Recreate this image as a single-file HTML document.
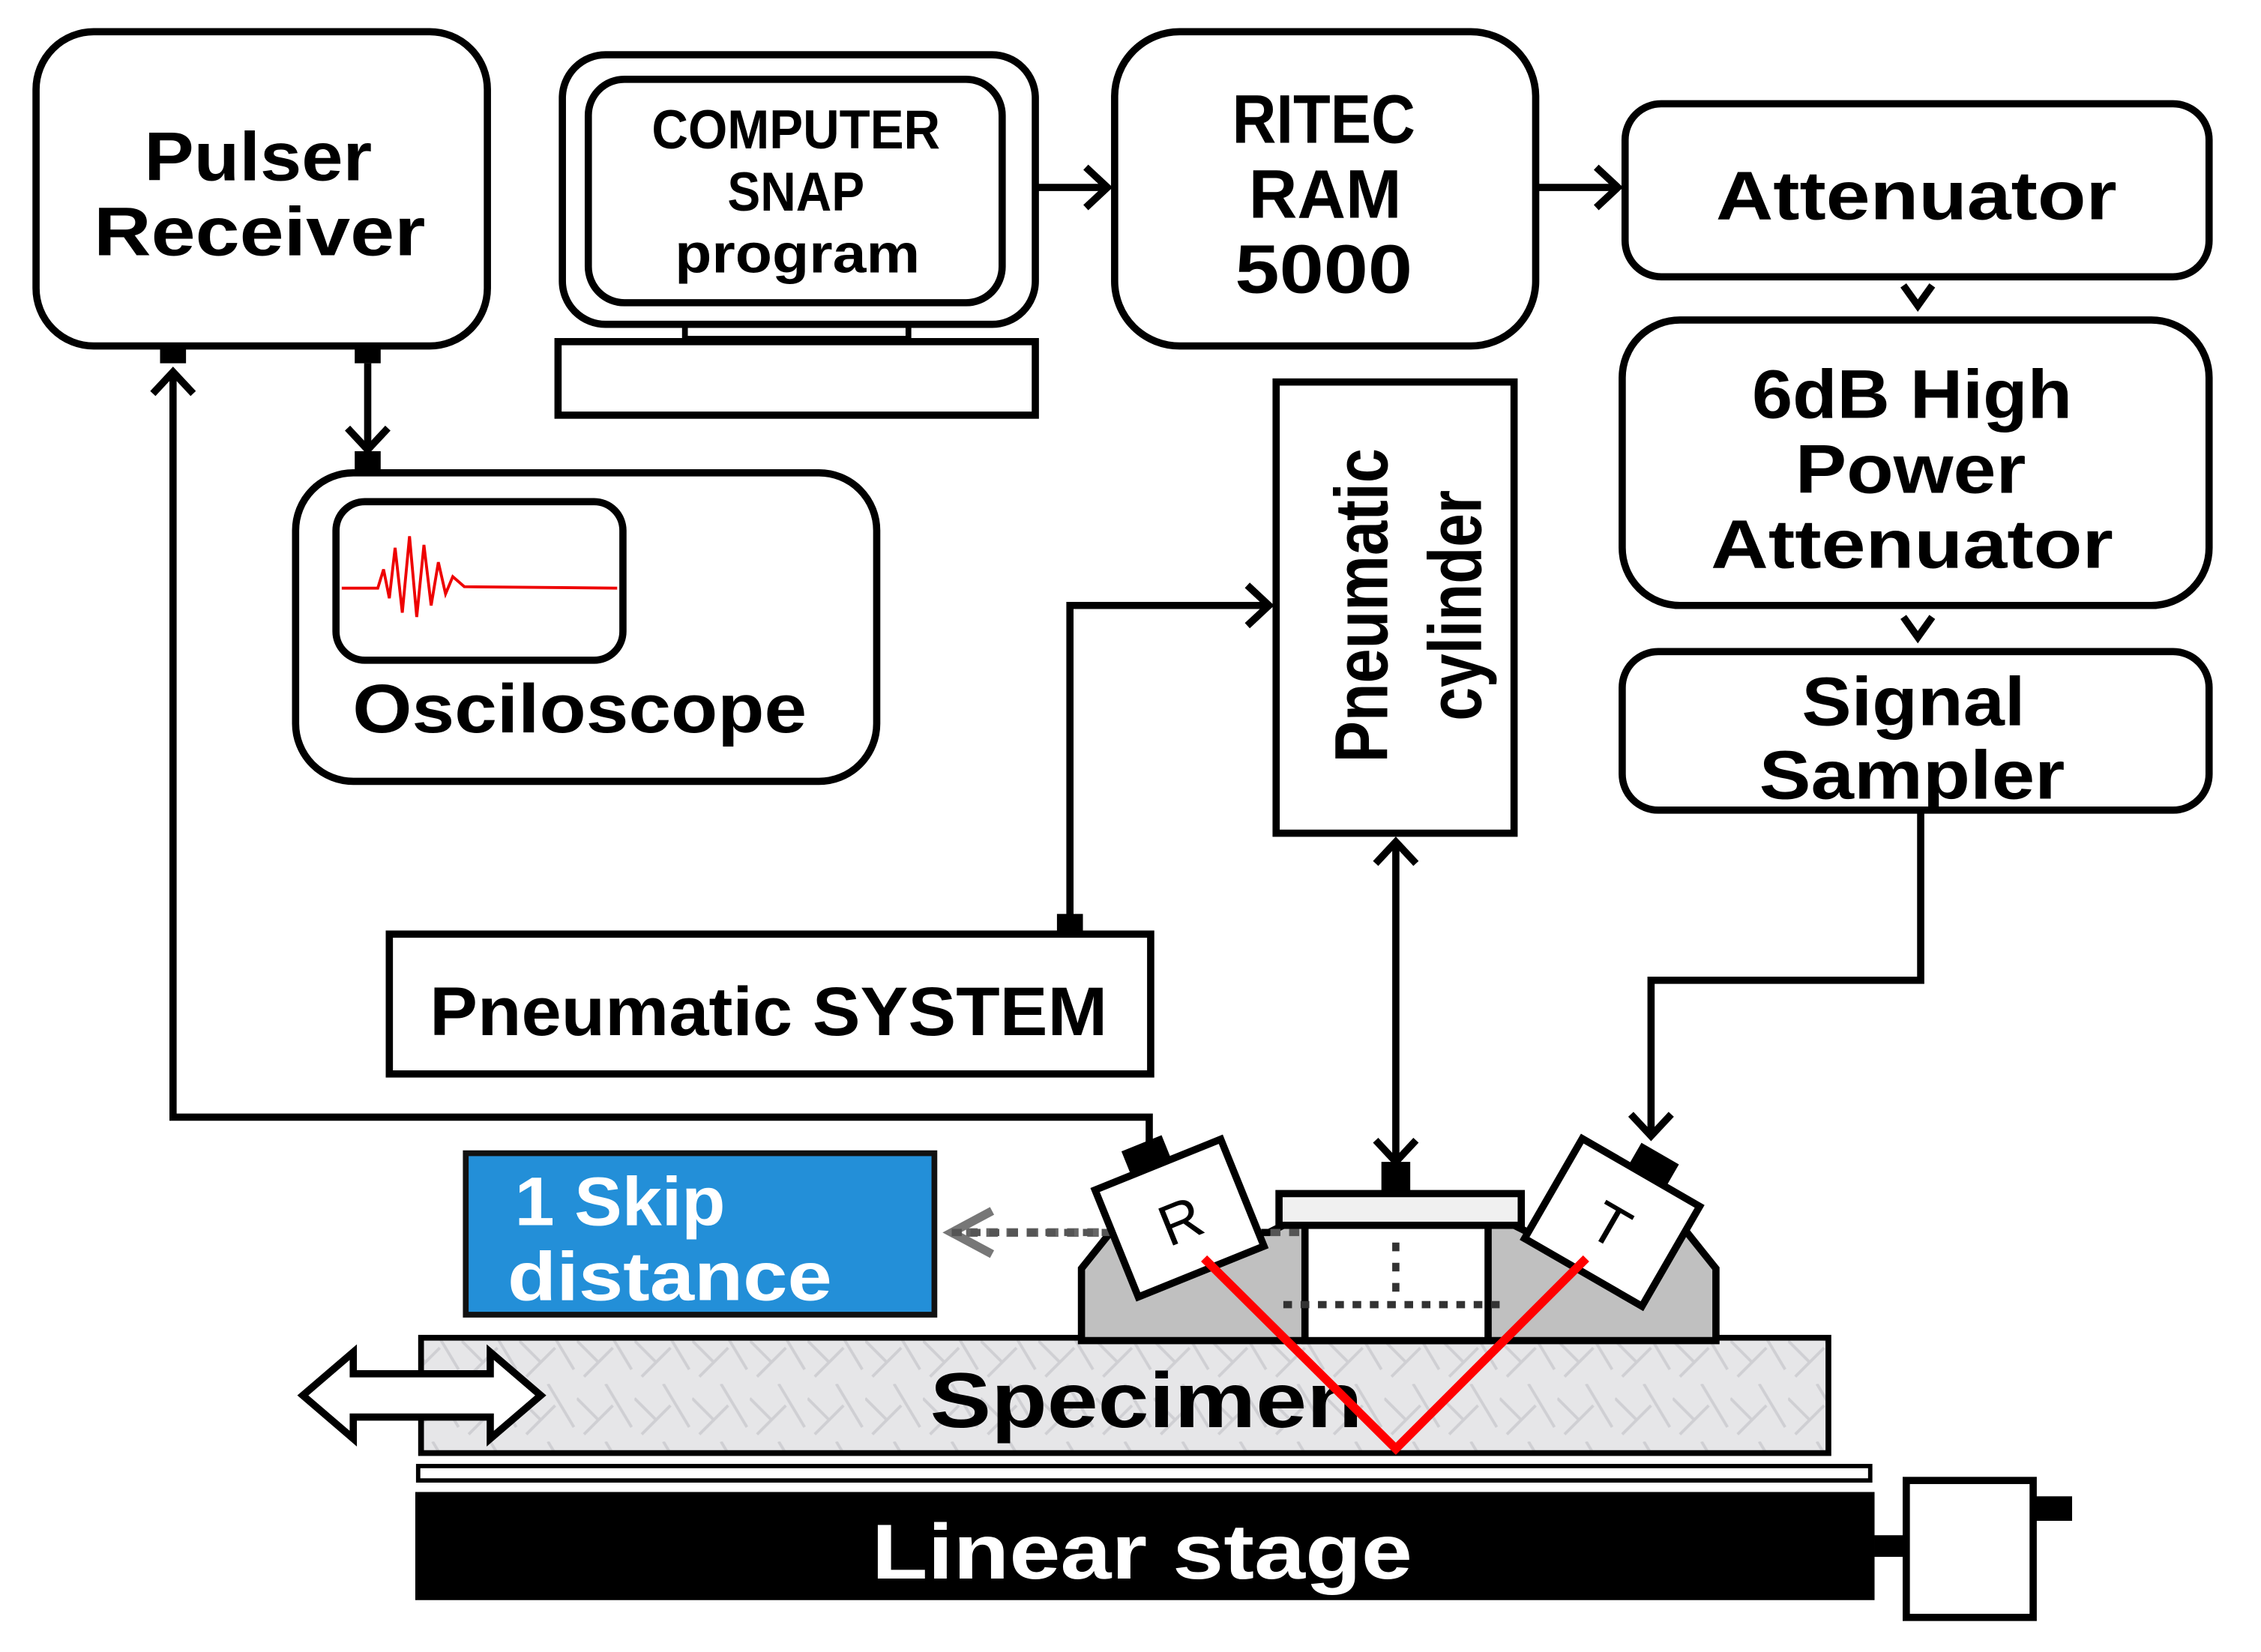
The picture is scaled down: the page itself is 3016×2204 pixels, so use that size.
<!DOCTYPE html>
<html><head><meta charset="utf-8"><style>
html,body{margin:0;padding:0;background:#fff;}
svg{display:block;}
text{font-family:"Liberation Sans",sans-serif;font-weight:bold;text-anchor:middle;}
</style></head><body>
<svg width="3016" height="2204" viewBox="0 0 1568 1146" preserveAspectRatio="none" xmlns="http://www.w3.org/2000/svg">
<defs>
<pattern id="marble" width="40" height="40" patternUnits="userSpaceOnUse">
<rect width="40" height="40" fill="#e6e6e8"/>
<path d="M0 10 L15 25 M20 0 L38 30 M5 35 L25 15" stroke="#cfcfd3" stroke-width="2"/>
</pattern>
</defs>
<g fill="none" stroke="#000" stroke-width="5">
<rect x="25" y="22" width="313" height="218" rx="40"/>
<rect x="205" y="328" width="403" height="214" rx="40"/>
<rect x="233" y="348" width="199" height="110" rx="20"/>
<rect x="390" y="38" width="328" height="187" rx="30"/>
<rect x="408" y="55" width="287" height="155" rx="25"/>
<rect x="475" y="225" width="155" height="10" stroke-width="4"/>
<rect x="387" y="237" width="331" height="51"/>
<rect x="773" y="22" width="292" height="218" rx="45"/>
<rect x="1127" y="72" width="405" height="120" rx="25"/>
<rect x="1125" y="222" width="407" height="198" rx="40"/>
<rect x="1125" y="452" width="407" height="110" rx="25"/>
<rect x="885" y="265" width="165" height="313"/>
<rect x="270" y="648" width="528" height="97"/>
<g stroke-width="5">
<polyline points="120,258 120,775 797,775 797,800"/>
<polyline points="106,273 120,258 134,273"/>
<line x1="255" y1="252" x2="255" y2="312"/>
<polyline points="241,297 255,312 269,297"/>
<line x1="718" y1="130" x2="768" y2="130"/>
<polyline points="753,116 768,130 753,144"/>
<line x1="1065" y1="130" x2="1122" y2="130"/>
<polyline points="1107,116 1122,130 1107,144"/>
<polyline points="1320,198 1330,212 1340,198"/>
<polyline points="1320,428 1330,442 1340,428"/>
<polyline points="1332,562 1332,680 1145,680 1145,788"/>
<polyline points="1131,773 1145,788 1159,773"/>
<polyline points="742,641 742,420 880,420"/>
<polyline points="865,406 880,420 865,434"/>
<line x1="968" y1="584" x2="968" y2="806"/>
<polyline points="954,599 968,584 982,599"/>
<polyline points="954,791 968,806 982,791"/>
</g>
</g>
<g fill="#000">
<rect x="111" y="238" width="18" height="14"/>
<rect x="246" y="238" width="18" height="14"/>
<rect x="246" y="313" width="18" height="14"/>
<rect x="733" y="634" width="18" height="14"/>
<rect x="958" y="806" width="20" height="22"/>
</g>
<path d="M237 408 L262 408 L266 395 L270 415 L274 380 L279 425 L284 372 L289 428 L294 378 L299 420 L304 390 L309 412 L314 400 L322 407 L428 408" fill="none" stroke="#e00" stroke-width="2"/>
<text x="179" y="125" font-size="48" textLength="158" lengthAdjust="spacingAndGlyphs">Pulser</text>
<text x="180" y="177" font-size="48" textLength="230" lengthAdjust="spacingAndGlyphs">Receiver</text>
<text x="552" y="103" font-size="38" textLength="200" lengthAdjust="spacingAndGlyphs">COMPUTER</text>
<text x="552" y="146" font-size="38" textLength="95" lengthAdjust="spacingAndGlyphs">SNAP</text>
<text x="553" y="189" font-size="38" textLength="170" lengthAdjust="spacingAndGlyphs">program</text>
<text x="918" y="99" font-size="48" textLength="127" lengthAdjust="spacingAndGlyphs">RITEC</text>
<text x="919" y="151" font-size="48" textLength="106" lengthAdjust="spacingAndGlyphs">RAM</text>
<text x="918" y="203" font-size="48" textLength="123" lengthAdjust="spacingAndGlyphs">5000</text>
<text x="1329" y="152" font-size="48" textLength="278" lengthAdjust="spacingAndGlyphs">Attenuator</text>
<text x="1326" y="290" font-size="48" textLength="222" lengthAdjust="spacingAndGlyphs">6dB High</text>
<text x="1325" y="342" font-size="48" textLength="160" lengthAdjust="spacingAndGlyphs">Power</text>
<text x="1326" y="394" font-size="48" textLength="279" lengthAdjust="spacingAndGlyphs">Attenuator</text>
<text x="1327" y="503" font-size="48" textLength="155" lengthAdjust="spacingAndGlyphs">Signal</text>
<text x="1326" y="554" font-size="48" textLength="212" lengthAdjust="spacingAndGlyphs">Sampler</text>
<text x="402" y="508" font-size="48" textLength="315" lengthAdjust="spacingAndGlyphs">Osciloscope</text>
<text x="533" y="718" font-size="48" textLength="470" lengthAdjust="spacingAndGlyphs">Pneumatic SYSTEM</text>
<text transform="translate(962,420) rotate(-90)" font-size="52" textLength="218" lengthAdjust="spacingAndGlyphs">Pneumatic</text>
<text transform="translate(1027,420) rotate(-90)" font-size="52" textLength="160" lengthAdjust="spacingAndGlyphs">cylinder</text>
<rect x="323" y="800" width="325" height="112" fill="#238fd8" stroke="#111" stroke-width="4"/>
<text x="357" y="850" font-size="48" fill="#fff" style="text-anchor:start" textLength="146" lengthAdjust="spacingAndGlyphs">1 Skip</text>
<text x="352" y="902" font-size="48" fill="#fff" style="text-anchor:start" textLength="225" lengthAdjust="spacingAndGlyphs">distance</text>
<line x1="790" y1="855" x2="668" y2="855" stroke="#666" stroke-width="6" stroke-dasharray="8,6"/>
<polyline points="688,840 660,855 688,870" fill="none" stroke="#777" stroke-width="6"/>
<rect x="292" y="928" width="976" height="80" fill="url(#marble)" stroke="#000" stroke-width="4"/>
<text x="795" y="990" font-size="54" textLength="300" lengthAdjust="spacingAndGlyphs">Specimen</text>
<path d="M750 930 L750 880 L770 855 L880 855 L890 850 L1050 850 L1060 855 L1170 855 L1190 880 L1190 930 Z" fill="#c0c0c0" stroke="#000" stroke-width="5"/>
<rect x="905" y="850" width="127" height="80" fill="#fff" stroke="#000" stroke-width="5"/>
<rect x="887" y="828" width="168" height="22" fill="#f0f0f0" stroke="#000" stroke-width="5"/>
<line x1="968" y1="862" x2="968" y2="900" stroke="#333" stroke-width="5" stroke-dasharray="6,8"/>
<line x1="890" y1="905" x2="1045" y2="905" stroke="#333" stroke-width="5" stroke-dasharray="6,6"/>
<line x1="660" y1="855" x2="905" y2="855" stroke="#555" stroke-width="5" stroke-dasharray="7,6"/>
<g transform="translate(818,845) rotate(-22)">
<rect x="-47" y="-40" width="94" height="80" fill="#fff" stroke="#000" stroke-width="5"/>
<rect x="-20" y="-58" width="30" height="18" fill="#000"/>
<text x="0" y="16" font-size="40" style="font-weight:normal">R</text>
</g>
<g transform="translate(1118,848) rotate(30)">
<rect x="-47" y="-40" width="94" height="80" fill="#fff" stroke="#000" stroke-width="5"/>
<rect x="-10" y="-58" width="30" height="18" fill="#000"/>
<text x="0" y="16" font-size="40" style="font-weight:normal">T</text>
</g>
<polyline points="835,873 968,1005 1100,873" fill="none" stroke="#f00" stroke-width="6"/>
<path d="M210 968 L245 938 L245 953 L340 953 L340 938 L375 968 L340 998 L340 983 L245 983 L245 998 Z" fill="#fff" stroke="#000" stroke-width="5"/>
<rect x="290" y="1017" width="1007" height="10" fill="#fff" stroke="#000" stroke-width="3"/>
<rect x="288" y="1035" width="1012" height="75" fill="#000"/>
<text x="792" y="1095" font-size="54" fill="#fff" textLength="375" lengthAdjust="spacingAndGlyphs">Linear stage</text>
<rect x="1300" y="1065" width="24" height="15" fill="#000"/>
<rect x="1322" y="1027" width="88" height="95" fill="#fff" stroke="#000" stroke-width="5"/>
<rect x="1410" y="1038" width="27" height="17" fill="#000"/>
</svg>
</body></html>
